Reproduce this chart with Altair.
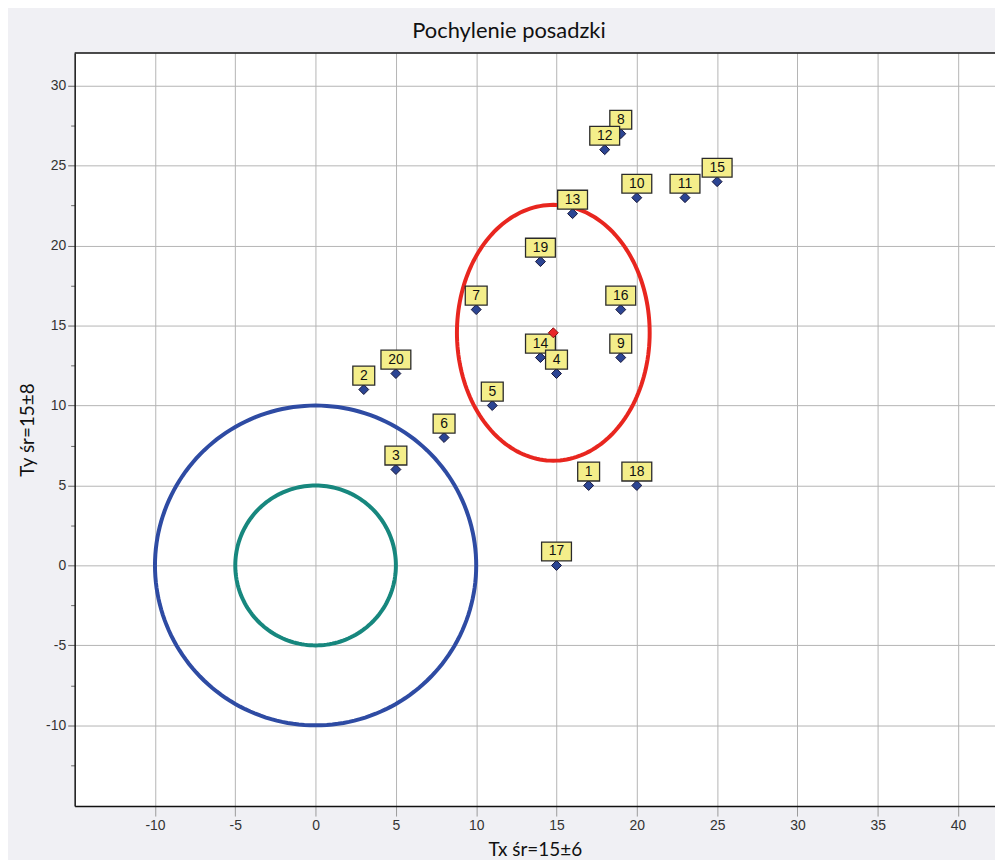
import altair as alt
import pandas as pd
import numpy as np

# --- data ---
labels = ["1", "2", "3", "4", "5", "6", "7", "8", "9", "10",
          "11", "12", "13", "14", "15", "16", "17", "18", "19", "20"]
tx = [17, 3, 5, 15, 11, 8, 10, 19, 19, 20, 23, 18, 16, 14, 25, 19, 15, 20, 14, 5]
ty = [5, 11, 6, 12, 10, 8, 16, 27, 13, 23, 23, 26, 22, 13, 24, 16, 0, 5, 19, 12]

x_ticks = [-10, -5, 0, 5, 10, 15, 20, 25, 30, 35, 40]
y_ticks = [-12.5, -10, -7.5, -5, -2.5, 0, 2.5, 5, 7.5, 10, 12.5, 15, 17.5,
           20, 22.5, 25, 27.5, 30]

# tolerance rings (centre, radii) and the spread ellipse (mean ± std)
ring_names = ["r10", "r5"]
ring_cx = [0, 0]
ring_cy = [0, 0]
ring_r = [10, 5]
mean_x = float(np.mean(tx))
mean_y = float(np.mean(ty))
std_x = 6
std_y = 8

pts = pd.DataFrame({"x": tx, "y": ty, "label": labels})
mean_df = pd.DataFrame({"x": [mean_x], "y": [mean_y]})

shapes = []
ang = np.linspace(0, 2 * np.pi, 181)
for n, cx, cy, r in zip(ring_names, ring_cx, ring_cy, ring_r):
    for i, a in enumerate(ang):
        shapes.append({"name": n, "i": i, "x": cx + r * np.cos(a), "y": cy + r * np.sin(a)})
for i, a in enumerate(ang):
    shapes.append({"name": "ell", "i": i, "x": mean_x + std_x * np.cos(a), "y": mean_y + std_y * np.sin(a)})
shape_df = pd.DataFrame(shapes)

W, H = 925, 757
xs = alt.Scale(domain=[-15, 42.3], nice=False, zero=False)
ys = alt.Scale(domain=[-15.05, 32.05], nice=False, zero=False)

x_axis = alt.Axis(values=x_ticks, title="Tx śr=15±6", grid=True, gridColor="#b4b4b4",
                  gridWidth=1, tickColor="#9a9a9a", tickSize=10, domainColor="#111",
                  domainWidth=1.5, labelFont="Liberation Sans", labelFontSize=14,
                  labelExpr="'' + datum.value",
                  labelColor="#333", labelPadding=3, titleFont="Lato", titleFontSize=19,
                  titleFontWeight="normal", titleColor="#111", titlePadding=8)
y_axis = alt.Axis(values=y_ticks, title="Ty śr=15±8", grid=True, gridColor="#b4b4b4",
                  gridWidth=1,
                  gridOpacity={"condition": {"test": "datum.value % 5 !== 0", "value": 0}, "value": 1},
                  tickSize={"condition": {"test": "datum.value % 5 !== 0", "value": 4}, "value": 7},
                  tickColor="#666",
                  labelExpr="datum.value % 5 === 0 ? '' + datum.value : ''",
                  domainColor="#111", domainWidth=1.5, labelFont="Liberation Sans",
                  labelFontSize=14, labelColor="#333", labelPadding=2,
                  titleFont="Lato", titleFontSize=19, titleFontWeight="normal",
                  titleColor="#111", titlePadding=8)

X = alt.X("x:Q", scale=xs, axis=x_axis)
Y = alt.Y("y:Q", scale=ys, axis=y_axis)

rings = alt.Chart(shape_df).mark_line(strokeWidth=4, clip=True).encode(
    x=X, y=Y, order="i:Q", detail="name:N",
    color=alt.Color("name:N", scale=alt.Scale(domain=["r10", "r5", "ell"],
                                              range=["#2e4ba3", "#17877e", "#e8261f"]),
                    legend=None),
)

diamonds = alt.Chart(pts).mark_point(shape="diamond", size=100, filled=True,
                                     fill="#2c4593", stroke="#17173a", strokeWidth=1,
                                     opacity=1).encode(x=X, y=Y)

path_n = "M-0.733,-0.633L0.733,-0.633L0.733,0.633L-0.733,0.633Z"
path_w = "M-1,-0.633L1,-0.633L1,0.633L-1,0.633Z"

boxes = alt.Chart(pts).transform_calculate(
    w="length(datum.label) > 1 ? 'w' : 'n'"
).mark_point(size=900, filled=True, fill="#f4ee8a", stroke="#2a2a2a",
             strokeWidth=1.3, opacity=1, yOffset=-14).encode(
    x=X, y=Y,
    shape=alt.Shape("w:N", scale=alt.Scale(domain=["n", "w"], range=[path_n, path_w]),
                    legend=None),
    order=alt.Order("y:Q", sort="descending"),
)

texts = alt.Chart(pts).mark_text(yOffset=-14, font="Liberation Sans", fontSize=14,
                                 color="#111", baseline="middle", align="center").encode(
    x=X, y=Y, text="label:N",
    order=alt.Order("y:Q", sort="descending"),
)

mean_pt = alt.Chart(mean_df).mark_point(shape="diamond", size=100, filled=True,
                                        fill="#e8262a", stroke="#8a1010", strokeWidth=1,
                                        opacity=1).encode(x=X, y=Y)

top_border = alt.Chart(mean_df).mark_rule(color="#111", strokeWidth=1.5).encode(
    x=alt.value(0), x2=alt.value(W), y=alt.value(0))

chart = alt.layer(rings, diamonds, boxes, texts, mean_pt, top_border).properties(
    width=W, height=H,
    title=alt.TitleParams("Pochylenie posadzki", font="Lato", fontSize=22,
                          fontWeight="normal", color="#111", anchor="middle",
                          dx=-26, offset=9),
    autosize=alt.AutoSizeParams(type="none"),
    padding={"left": 67, "top": 43, "right": 0, "bottom": 52},
    background="#f0f0f4",
).configure_view(strokeWidth=0, fill="white")

chart.save("out.html", embed_options={"renderer": "svg", "actions": False})
